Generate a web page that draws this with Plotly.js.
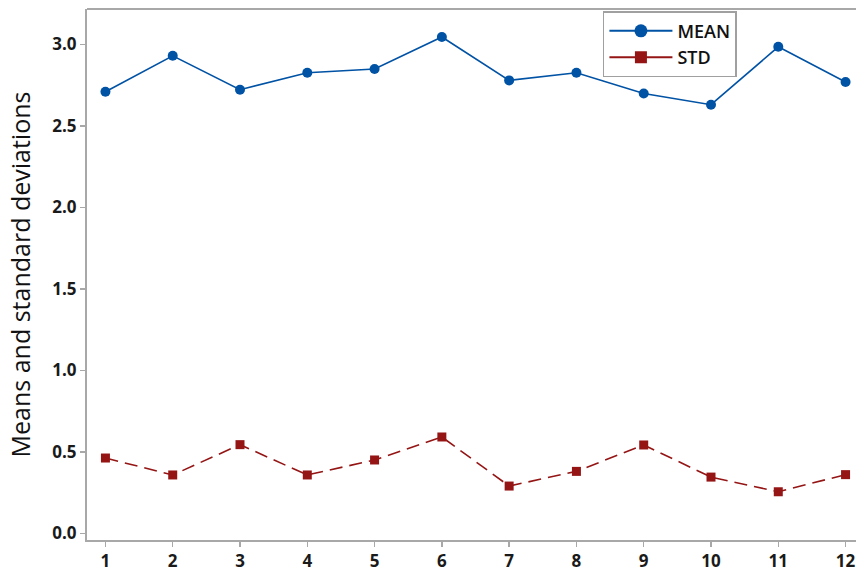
<!DOCTYPE html>
<html>
<head>
<meta charset="utf-8">
<script src="https://cdn.plot.ly/plotly-3.0.1.min.js"></script>
<style>
html,body{margin:0;padding:0;overflow:hidden;background:#fff;}
#chart{width:880px;height:576px;}
</style>
</head>
<body>
<div id="chart"></div>
<script>
const categories = [1,2,3,4,5,6,7,8,9,10,11,12];
const meanValues = [2.709,2.930,2.722,2.826,2.849,3.045,2.779,2.826,2.699,2.630,2.985,2.769];
const stdValues  = [0.462,0.358,0.544,0.358,0.450,0.591,0.290,0.380,0.542,0.345,0.255,0.360];
const yTickVals = [0,0.5,1,1.5,2,2.5,3];
const yTickText = ['0.0','0.5','1.0','1.5','2.0','2.5','3.0'];
const seriesNames = ['MEAN','STD'];

const blue = '#0052a5', red = '#951515';
const traces = [
  {x: categories, y: meanValues, name: seriesNames[0], type: 'scatter', mode: 'lines+markers', showlegend: false, legendgroup: 'm',
   line: {color: blue, width: 1.6},
   marker: {symbol: 'circle', size: 10, color: blue}},
  {x: categories, y: stdValues, name: seriesNames[1], type: 'scatter', mode: 'lines+markers', showlegend: false, legendgroup: 's',
   line: {color: red, width: 1.6, dash: '13px,7px'},
   marker: {symbol: 'square', size: 9, color: red}},
  {x: [null], y: [null], name: seriesNames[0], type: 'scatter', mode: 'lines+markers', legendgroup: 'm',
   line: {color: blue, width: 2}, marker: {symbol: 'circle', size: 13, color: blue}},
  {x: [null], y: [null], name: seriesNames[1], type: 'scatter', mode: 'lines+markers', legendgroup: 's',
   line: {color: red, width: 2}, marker: {symbol: 'square', size: 12, color: red}}
];

const axisCommon = {
  showgrid: false, zeroline: false, showline: true, linecolor: '#a8a8a8', linewidth: 2,
  ticks: 'outside', ticklen: 5, tickwidth: 1.5, tickcolor: '#a8a8a8',
  tickfont: {family: 'Open Sans, sans-serif', size: 17, color: '#1a1a1a', weight: 700}
};

const layout = {
  width: 880, height: 576,
  margin: {l: 87, r: 16, t: 9, b: 36},
  paper_bgcolor: '#fff', plot_bgcolor: '#fff',
  showlegend: true,
  legend: {x: 0.664, y: 0.996, xanchor: 'left', yanchor: 'top',
    bordercolor: '#a0a0a0', borderwidth: 1.5, bgcolor: '#fff',
    itemwidth: 63, tracegroupgap: 0,
    font: {family: 'Open Sans, sans-serif', size: 18, color: '#111', weight: 600}},
  xaxis: Object.assign({}, axisCommon, {range: [0.726, 12.274], tickvals: categories, ticktext: categories.map(String)}),
  yaxis: Object.assign({}, axisCommon, {range: [-0.041, 3.217], tickvals: yTickVals, ticktext: yTickText,
    title: {text: 'Means and standard deviations', standoff: 15, font: {family: 'Open Sans, sans-serif', size: 25, color: '#111'}}}),
  shapes: [{type: 'line', xref: 'paper', yref: 'paper', x0: 0, x1: 1, y0: 1, y1: 1, line: {color: '#a8a8a8', width: 2}}]
};

Plotly.newPlot('chart', traces, layout, {displayModeBar: false, staticPlot: true});
</script>
</body>
</html>
